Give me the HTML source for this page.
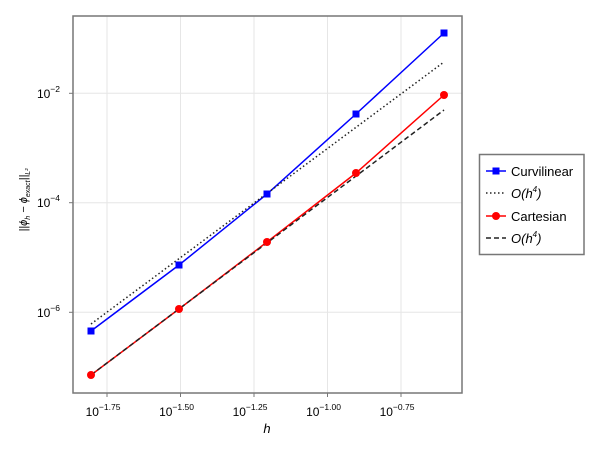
<!DOCTYPE html>
<html><head><style>body{margin:0;background:#fff}svg{display:block}text{font-family:"Liberation Sans",sans-serif;fill:#000}</style></head><body>
<svg width="600" height="450" viewBox="0 0 600 450" xmlns="http://www.w3.org/2000/svg">
<g stroke="#e6e6e6" stroke-width="1">
<line x1="107" y1="16" x2="107" y2="393"/><line x1="180.5" y1="16" x2="180.5" y2="393"/><line x1="254" y1="16" x2="254" y2="393"/><line x1="327.5" y1="16" x2="327.5" y2="393"/><line x1="401" y1="16" x2="401" y2="393"/>
<line x1="73" y1="93.3" x2="462" y2="93.3"/><line x1="73" y1="202.7" x2="462" y2="202.7"/><line x1="73" y1="312.3" x2="462" y2="312.3"/>
</g>
<rect x="73" y="16" width="389" height="377" fill="none" stroke="#777" stroke-width="1.5"/>
<g stroke="#777" stroke-width="1">
<line x1="107" y1="393" x2="107" y2="397"/><line x1="180.5" y1="393" x2="180.5" y2="397"/><line x1="254" y1="393" x2="254" y2="397"/><line x1="327.5" y1="393" x2="327.5" y2="397"/><line x1="401" y1="393" x2="401" y2="397"/>
<line x1="69" y1="93.3" x2="73" y2="93.3"/><line x1="69" y1="202.7" x2="73" y2="202.7"/><line x1="69" y1="312.3" x2="73" y2="312.3"/>
</g>
<g font-size="12" text-anchor="middle">
<text x="103" y="416">10<tspan font-size="8.5" dy="-6">−1.75</tspan></text>
<text x="176.5" y="416">10<tspan font-size="8.5" dy="-6">−1.50</tspan></text>
<text x="250" y="416">10<tspan font-size="8.5" dy="-6">−1.25</tspan></text>
<text x="323.5" y="416">10<tspan font-size="8.5" dy="-6">−1.00</tspan></text>
<text x="397" y="416">10<tspan font-size="8.5" dy="-6">−0.75</tspan></text>
</g>
<g font-size="12" text-anchor="end">
<text x="60" y="98">10<tspan font-size="8.5" dy="-6">−2</tspan></text>
<text x="60" y="207">10<tspan font-size="8.5" dy="-6">−4</tspan></text>
<text x="60" y="317">10<tspan font-size="8.5" dy="-6">−6</tspan></text>
</g>
<text x="267" y="433" font-size="13" font-style="italic" font-family="Liberation Serif" text-anchor="middle">h</text>
<text transform="translate(27,200) rotate(-90)" font-size="11" font-style="italic" font-family="Liberation Serif" text-anchor="middle" fill="#444">||ϕ<tspan font-size="7" dy="3">h</tspan><tspan dy="-3"> − ϕ</tspan><tspan font-size="7" dy="3">exact</tspan><tspan dy="-3">||</tspan><tspan font-size="7" dy="3">L²</tspan></text>
<polyline points="91,331 179,265 267,194 356,114 444,33" fill="none" stroke="#0000ff" stroke-width="1.5"/>
<polyline points="91,375 179,309 267,242 356,173 444,95" fill="none" stroke="#ff0000" stroke-width="1.5"/>
<line x1="91" y1="324" x2="444" y2="62" stroke="#222" stroke-width="1.5" stroke-dasharray="1.5,2.5"/>
<line x1="91" y1="375" x2="444" y2="110" stroke="#222" stroke-width="1.5" stroke-dasharray="5,3"/>
<g fill="#0000ff"><rect x="87.5" y="327.5" width="7" height="7"/><rect x="175.5" y="261.5" width="7" height="7"/><rect x="263.5" y="190.5" width="7" height="7"/><rect x="352.5" y="110.5" width="7" height="7"/><rect x="440.5" y="29.5" width="7" height="7"/></g>
<g fill="#ff0000"><circle cx="91" cy="375" r="4"/><circle cx="179" cy="309" r="4"/><circle cx="267" cy="242" r="4"/><circle cx="356" cy="173" r="4"/><circle cx="444" cy="95" r="4"/></g>
<rect x="479.5" y="154.5" width="104.5" height="100" fill="#fff" stroke="#777" stroke-width="1.5"/>
<line x1="486" y1="171" x2="506" y2="171" stroke="#0000ff" stroke-width="1.5"/><rect x="492.5" y="167.5" width="7" height="7" fill="#0000ff"/>
<text x="511" y="176" font-size="13">Curvilinear</text>
<line x1="486" y1="193" x2="506" y2="193" stroke="#222" stroke-width="1.5" stroke-dasharray="1.5,2.5"/>
<text x="511" y="198" font-size="13" font-family="Liberation Serif" font-style="italic">O(h<tspan font-size="8" dy="-6">4</tspan><tspan dy="6">)</tspan></text>
<line x1="486" y1="216" x2="506" y2="216" stroke="#ff0000" stroke-width="1.5"/><circle cx="496" cy="216" r="4" fill="#ff0000"/>
<text x="511" y="221" font-size="13">Cartesian</text>
<line x1="486" y1="238" x2="506" y2="238" stroke="#222" stroke-width="1.5" stroke-dasharray="5,3"/>
<text x="511" y="243" font-size="13" font-family="Liberation Serif" font-style="italic">O(h<tspan font-size="8" dy="-6">4</tspan><tspan dy="6">)</tspan></text>
</svg>
</body></html>
